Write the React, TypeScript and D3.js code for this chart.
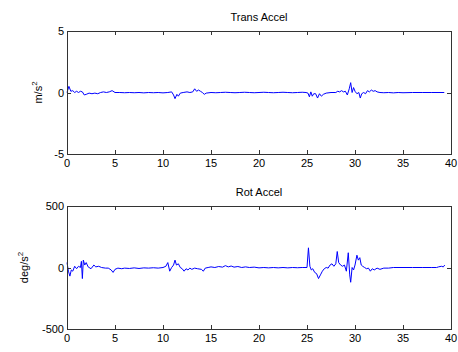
import { useRef, useEffect } from 'react'
import * as d3 from 'd3'

// Trans Accel samples [time s, m/s^2]
const TRANS: [number, number][] = [
  [0.0, 0.0], [0.2, 0.5], [0.4, 0.1], [0.6, 0.15], [0.8, 0.0], [1.0, 0.1], [1.2, 0.0], [1.4, 0.1],
  [1.6, 0.05], [1.8, -0.2], [2.0, -0.15], [2.3, -0.05], [2.6, -0.1], [2.9, -0.05], [3.2, -0.1],
  [3.5, 0.0], [3.8, 0.05], [4.1, 0.0], [4.4, 0.05], [4.7, 0.15], [5.0, 0.0], [5.5, 0.0], [6.0, -0.02],
  [6.5, 0.0], [7.0, -0.02], [7.5, 0.0], [8.0, -0.03], [8.5, 0.0], [9.0, -0.02], [9.5, 0.0],
  [10.0, -0.03], [10.5, 0.0], [10.9, 0.05], [11.1, -0.2], [11.25, -0.5], [11.45, -0.15], [11.6, -0.3],
  [11.8, -0.05], [12.1, 0.0], [12.5, 0.05], [12.8, 0.0], [13.1, 0.05], [13.3, 0.3], [13.5, 0.1],
  [13.7, 0.2], [13.9, 0.1], [14.1, 0.0], [14.3, -0.15], [14.5, -0.05], [15.0, 0.0], [15.5, -0.02],
  [16.0, 0.0], [16.5, 0.02], [17.0, 0.0], [17.5, -0.02], [18.0, 0.0], [18.5, 0.02], [19.0, 0.0],
  [19.5, -0.02], [20.0, 0.0], [20.5, 0.02], [21.0, 0.0], [21.5, -0.02], [22.0, 0.0], [22.5, 0.02],
  [23.0, 0.0], [23.5, -0.02], [24.0, 0.0], [24.5, 0.02], [24.9, 0.0], [25.1, -0.05], [25.25, -0.35],
  [25.4, 0.05], [25.55, -0.3], [25.7, -0.1], [25.9, -0.1], [26.1, -0.45], [26.3, -0.1], [26.5, -0.3],
  [26.7, -0.15], [27.0, -0.05], [27.5, 0.0], [28.0, 0.0], [28.2, 0.1], [28.4, 0.05], [28.6, 0.15],
  [28.8, 0.05], [29.0, 0.1], [29.2, -0.2], [29.4, 0.3], [29.55, 0.8], [29.7, 0.0], [29.85, 0.4],
  [30.0, 0.1], [30.2, -0.1], [30.4, 0.0], [30.55, -0.45], [30.7, -0.1], [30.9, 0.0], [31.1, -0.1],
  [31.3, 0.15], [31.5, 0.05], [31.7, 0.2], [31.9, 0.1], [32.1, 0.15], [32.3, 0.05], [32.6, 0.0],
  [33.0, -0.02], [33.5, 0.0], [34.0, -0.03], [34.5, 0.0], [35.0, -0.02], [36.0, 0.0], [37.0, 0.0],
  [38.0, 0.0], [39.3, 0.0],
]

// Rot Accel samples [time s, deg/s^2]
const ROT: [number, number][] = [
  [0.0, 40], [0.15, -30], [0.3, -70], [0.45, -20], [0.6, -30], [0.8, 10], [1.0, -10], [1.2, 10],
  [1.4, 0], [1.5, 50], [1.6, -90], [1.7, 60], [1.85, 20], [2.0, 40], [2.2, 5], [2.5, -10], [2.8, 20],
  [3.0, 5], [3.3, 10], [3.6, 0], [4.0, -5], [4.3, -5], [4.6, -20], [4.8, -40], [5.0, -15], [5.3, -5],
  [5.7, -10], [6.0, -5], [6.5, -8], [7.0, -3], [7.5, -8], [8.0, -3], [8.5, -5], [9.0, -2], [9.5, -5],
  [10.0, 0], [10.3, 10], [10.5, 40], [10.7, -30], [10.9, 0], [11.1, 20], [11.25, 60], [11.4, 20],
  [11.6, 30], [11.8, 0], [12.0, -10], [12.2, -30], [12.4, -10], [12.6, -20], [12.8, -5], [13.0, -15],
  [13.3, -5], [13.6, -10], [14.0, -15], [14.2, -30], [14.4, -5], [14.7, 0], [15.0, 5], [15.4, 0],
  [15.8, 8], [16.2, 3], [16.5, 15], [16.8, 5], [17.1, 12], [17.4, 3], [17.8, 8], [18.2, 0], [18.6, 5],
  [19.0, 0], [19.5, 3], [20.0, -3], [20.5, 0], [21.0, -3], [21.5, 0], [22.0, -3], [22.5, 0],
  [23.0, -3], [23.5, 0], [24.0, -2], [24.5, 0], [25.0, 0], [25.15, 160], [25.3, 10], [25.45, -20],
  [25.6, -10], [25.8, -40], [26.0, -50], [26.2, -90], [26.4, -60], [26.6, -30], [26.8, -10], [27.0, 0],
  [27.2, -5], [27.4, 20], [27.6, 30], [27.8, 10], [28.0, 30], [28.15, 130], [28.3, 40], [28.5, 20],
  [28.7, 10], [28.9, 20], [29.1, -30], [29.3, 120], [29.45, -60], [29.55, -120], [29.7, 0],
  [29.85, -20], [30.0, 20], [30.2, 100], [30.35, 60], [30.5, 80], [30.65, 20], [30.8, 10], [31.0, 0],
  [31.2, -10], [31.4, -5], [31.6, -30], [31.8, -10], [32.0, -20], [32.3, -5], [32.6, -15], [33.0, -5],
  [33.5, -5], [34.0, 0], [35.0, 0], [36.0, 0], [37.0, 0], [38.0, 0], [38.5, 0], [38.7, 5], [39.0, 10],
  [39.2, 5], [39.35, 20],
]

const X_TICKS = [0, 5, 10, 15, 20, 25, 30, 35, 40]
const TRANS_Y_TICKS = [-5, 0, 5]
const ROT_Y_TICKS = [-500, 0, 500]

const FONT = '"Liberation Sans", Arial, sans-serif'

type Panel = {
  title: string
  unit: string
  data: [number, number][]
  yDomain: [number, number]
  yTicks: number[]
  top: number
  labelX: number
}

const PANELS: Panel[] = [
  { title: 'Trans Accel', unit: 'm/s', data: TRANS, yDomain: [-5, 5], yTicks: TRANS_Y_TICKS, top: 31, labelX: 42 },
  { title: 'Rot Accel', unit: 'deg/s', data: ROT, yDomain: [-500, 500], yTicks: ROT_Y_TICKS, top: 206, labelX: 28 },
]

export default function App() {
  const svgRef = useRef<SVGSVGElement>(null)

  useEffect(() => {
    if (!svgRef.current) return
    const svg = d3.select(svgRef.current)
    svg.selectAll('*').remove()

    const L = 67, R = 451, H = 123, TL = 4

    PANELS.forEach(p => {
      const x = d3.scaleLinear().domain([0, 40]).range([L, R])
      const y = d3.scaleLinear().domain(p.yDomain).range([p.top + H, p.top])
      const g = svg.append('g')

      g.append('rect')
        .attr('x', L).attr('y', p.top).attr('width', R - L).attr('height', H)
        .attr('fill', '#fff').attr('stroke', 'none')

      const line = d3.line<[number, number]>().x(d => x(d[0])).y(d => y(d[1]))
      g.append('path')
        .datum(p.data)
        .attr('d', line)
        .attr('fill', 'none')
        .attr('stroke', '#0000ff')
        .attr('stroke-width', 1)

      const tickColor = '#333'
      // x ticks, inward on bottom and top
      X_TICKS.forEach(t => {
        const xx = Math.round(x(t)) + 0.5
        g.append('line').attr('x1', xx).attr('x2', xx)
          .attr('y1', p.top + H).attr('y2', p.top + H - TL).attr('stroke', tickColor)
        g.append('line').attr('x1', xx).attr('x2', xx)
          .attr('y1', p.top).attr('y2', p.top + TL).attr('stroke', tickColor)
        g.append('text')
          .attr('x', x(t)).attr('y', p.top + H + 13)
          .attr('text-anchor', 'middle')
          .attr('font-family', FONT).attr('font-size', 11).attr('fill', '#000')
          .text(String(t))
      })
      p.yTicks.forEach(t => {
        const yy = Math.round(y(t)) + 0.5
        g.append('line').attr('x1', L).attr('x2', L + TL)
          .attr('y1', yy).attr('y2', yy).attr('stroke', tickColor)
        g.append('line').attr('x1', R).attr('x2', R - TL)
          .attr('y1', yy).attr('y2', yy).attr('stroke', tickColor)
        g.append('text')
          .attr('x', L - 3).attr('y', y(t) + 4)
          .attr('text-anchor', 'end')
          .attr('font-family', FONT).attr('font-size', 11).attr('fill', '#000')
          .text(String(t))
      })

      g.append('rect')
        .attr('x', L + 0.5).attr('y', p.top + 0.5).attr('width', R - L).attr('height', H)
        .attr('fill', 'none').attr('stroke', tickColor).attr('stroke-width', 1)

      g.append('text')
        .attr('x', (L + R) / 2).attr('y', p.top - 10)
        .attr('text-anchor', 'middle')
        .attr('font-family', FONT).attr('font-size', 11).attr('fill', '#000')
        .text(p.title)

      const lab = g.append('text')
        .attr('transform', `translate(${p.labelX},${p.top + H / 2}) rotate(-90)`)
        .attr('text-anchor', 'middle')
        .attr('font-family', FONT).attr('font-size', 11).attr('fill', '#000')
      lab.append('tspan').text(p.unit)
      lab.append('tspan').attr('dy', -5).attr('font-size', 8).text('2')
    })
  }, [])

  return (
    <svg
      ref={svgRef}
      width={458}
      height={352}
      style={{ position: 'absolute', left: 0, top: 0, background: '#fff' }}
    />
  )
}
